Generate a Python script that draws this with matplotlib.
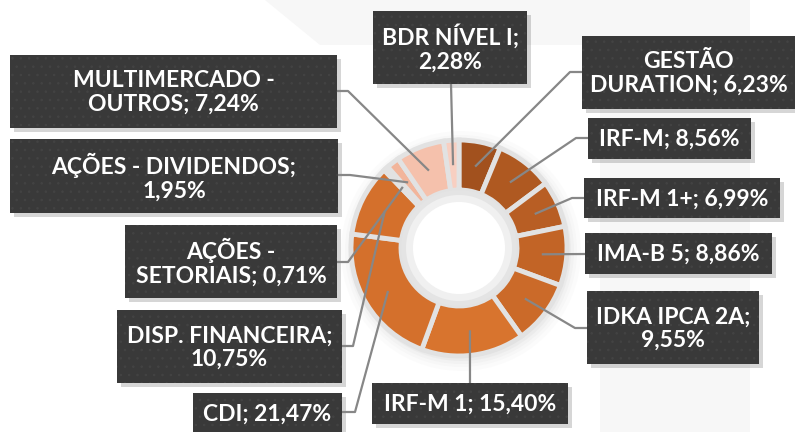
import matplotlib.pyplot as plt
import numpy as np
from matplotlib.patches import FancyBboxPatch, Circle, Polygon

# =========================
# Data (clockwise from 12 o'clock)
# =========================
names = ["GESTÃO\nDURATION", "IRF-M", "IRF-M 1+", "IMA-B 5", "IDKA IPCA 2A",
         "IRF-M 1", "CDI", "DISP. FINANCEIRA", "AÇÕES -\nSETORIAIS",
         "AÇÕES - DIVIDENDOS", "MULTIMERCADO -\nOUTROS", "BDR NÍVEL I"]
values = [6.23, 8.56, 6.99, 8.86, 9.55, 15.40, 21.47, 10.75, 0.71, 1.95, 7.24, 2.28]
label_text = ["GESTÃO\nDURATION; 6,23%", "IRF-M; 8,56%", "IRF-M 1+; 6,99%",
              "IMA-B 5; 8,86%", "IDKA IPCA 2A;\n9,55%", "IRF-M 1; 15,40%",
              "CDI; 21,47%", "DISP. FINANCEIRA;\n10,75%", "AÇÕES -\nSETORIAIS; 0,71%",
              "AÇÕES - DIVIDENDOS;\n1,95%", "MULTIMERCADO -\nOUTROS; 7,24%",
              "BDR NÍVEL I;\n2,28%"]
colors = ["#A2511E", "#AF5921", "#B85E24", "#C26426", "#CB6A29", "#D8742E",
          "#D4702C", "#D4702C", "#EFA98A", "#F2B59B", "#F5C1AC", "#F8CFC1"]

# =========================
# Layout (pixel coords, y from top)
# box: x0, y0, x1, y1 ; side the leader leaves from ; attach pos ; elbow
# =========================
W, H = 795, 432
boxes = [(582, 36, 795, 109), (588, 118, 751, 159), (584, 178, 780, 218),
         (585, 233, 772, 274), (587, 291, 759, 364), (372, 383, 568, 424),
         (193, 393, 342, 434), (117, 310, 342, 383), (125, 225, 337, 298),
         (10, 139, 338, 213), (10, 55, 337, 128), (373, 11, 527, 84)]
sides = ["left", "left", "left", "left", "left", "top",
         "right", "right", "right", "right", "right", "bottom"]
attach = [72, 138, 198, 254, 328, 470, 412, 346, 262, 175, 91, 451]
elbow = [12, 12, 12, 0, 12, 0, 13, 11, 11, 12, 11, 0]

cx, cy, R, ring_w = 459, 248, 108, 50


def Y(py):
    return H - py


plt.rcParams["font.family"] = ["Lato", "DejaVu Sans"]
plt.rcParams["hatch.linewidth"] = 0.6

fig = plt.figure(figsize=(W / 100, H / 100), dpi=100)
ax = fig.add_axes([0, 0, 1, 1])

# faint background decoration
ax.add_patch(Polygon([(600, 0), (750, 0), (750, H), (600, H)], closed=True,
                     facecolor="#F7F7F7", edgecolor="none", zorder=0))
ax.add_patch(Polygon([(265, H), (600, H), (600, H - 45), (320, H - 45)], closed=True,
                     facecolor="#F7F7F7", edgecolor="none", zorder=0))

# soft shadow around the ring
for k, a in zip([12, 8, 5, 2], [0.03, 0.04, 0.05, 0.07]):
    ax.add_patch(Circle((cx + 2, Y(cy) - 3), R + k, facecolor="#9A9A9A",
                        edgecolor="none", alpha=a, zorder=1))

wedges, _ = ax.pie(values, colors=colors, startangle=90, counterclock=False,
                   center=(cx, Y(cy)), radius=R,
                   wedgeprops=dict(width=ring_w, edgecolor="#E2E2E2", linewidth=3.5))
for w in wedges:
    w.set_zorder(2)

# inner hole shading
for k, c in zip([0, 5, 12], ["#E4E4E4", "#F0F0F0", "#FFFFFF"]):
    ax.add_patch(Circle((cx, Y(cy)), R - ring_w - k, facecolor=c,
                        edgecolor="none", zorder=3))

# =========================
# Label boxes + leader lines
# =========================
for w, txt, (x0, y0, x1, y1), side, pos, el in zip(wedges, label_text, boxes,
                                                    sides, attach, elbow):
    # shadow
    ax.add_patch(FancyBboxPatch((x0 + 4, Y(y1) - 4), x1 - x0, y1 - y0,
                                boxstyle="square,pad=0", facecolor="#000000",
                                edgecolor="none", alpha=0.16, zorder=4))
    # dark box with faint dot texture (hatch follows edgecolor)
    ax.add_patch(FancyBboxPatch((x0, Y(y1)), x1 - x0, y1 - y0,
                                boxstyle="square,pad=0", facecolor="#393939",
                                edgecolor="#434343", linewidth=0, hatch="..",
                                zorder=5))
    ax.text((x0 + x1) / 2, Y((y0 + y1) / 2) - 1, txt, ha="center", va="center",
            color="white", fontsize=16.5, fontweight="bold", linespacing=1.15,
            zorder=6)

    # anchor inside the slice
    mid = np.deg2rad((w.theta1 + w.theta2) / 2)
    r_a = R - ring_w / 2
    ex, ey = cx + r_a * np.cos(mid), Y(cy) + r_a * np.sin(mid)

    if side == "left":
        pts = [(x0, Y(pos)), (x0 - el, Y(pos)), (ex, ey)]
    elif side == "right":
        pts = [(x1, Y(pos)), (x1 + el, Y(pos)), (ex, ey)]
    elif side == "top":
        pts = [(pos, Y(y0)), (ex, ey)]
    else:
        pts = [(pos, Y(y1)), (ex, ey)]
    xs, ys = zip(*pts)
    ax.plot(xs, ys, color="#878787", linewidth=1.6, zorder=4.5,
            solid_capstyle="butt")

ax.set_xlim(0, W)
ax.set_ylim(0, H)
ax.set_aspect("equal")
ax.axis("off")

fig.savefig("out.png", dpi=100, facecolor="white")
